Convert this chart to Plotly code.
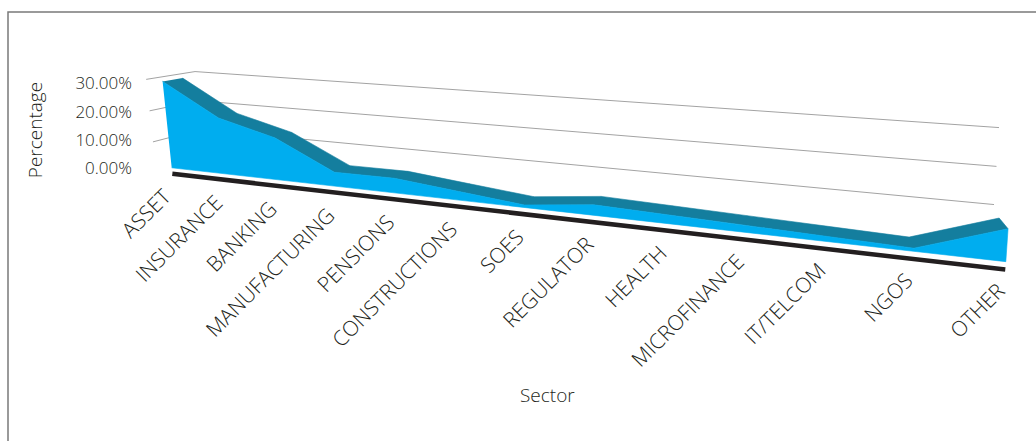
import numpy as np
import plotly.graph_objects as go

# ---------------- data ----------------
CATEGORIES = ["ASSET", "INSURANCE", "BANKING", "MANUFACTURING", "PENSIONS", "CONSTRUCTIONS",
              "SOES", "REGULATOR", "HEALTH", "MICROFINANCE", "IT/TELCOM", "NGOS", "OTHER"]
SHARE_PCT = [28.5, 18.1, 13.4, 4.4, 4.5, 2.6, 0.75, 3.0, 2.45, 1.9, 1.35, 0.8, 8.2]
GRID_PCT = [10, 20, 30]
Y_TICKS = [0, 10, 20, 30]
Y_TICK_TEXT = ["0.00%", "10.00%", "20.00%", "30.00%"]

# ---------------- 3-D view (Excel-like perspective camera) ----------------
CAM_POS = np.array([9.5680, -1.1122, 3.1795])
CAM_YAW, CAM_PITCH, CAM_ROLL = 0.03323, 0.01916, 0.02223
FOCAL, CENTER = 96.61, (793.68, -22.75)
DEPTH_UNIT, PCT_UNIT = 0.04782, 0.047736      # world size of 1 series depth / 1 %
FLOOR_FRONT, BACK_WALL = -0.75, 1.673           # depth of side-wall front edge and back wall
FLOOR_DROP = -2.0                               # floor edge sits just below 0 %

fwd = np.array([-np.sin(CAM_YAW) * np.cos(CAM_PITCH), np.cos(CAM_YAW) * np.cos(CAM_PITCH), -np.sin(CAM_PITCH)])
rgt = np.array([np.cos(CAM_YAW), np.sin(CAM_YAW), 0.0])
upv = np.cross(rgt, fwd)
rgt, upv = np.cos(CAM_ROLL) * rgt + np.sin(CAM_ROLL) * upv, -np.sin(CAM_ROLL) * rgt + np.cos(CAM_ROLL) * upv


def proj(cat, depth, pct):
    w = np.array([cat, DEPTH_UNIT * depth, PCT_UNIT * pct], float) - CAM_POS
    zc = w @ fwd
    return CENTER[0] + FOCAL * (w @ rgt) / zc, CENTER[1] - FOCAL * (w @ upv) / zc


n = len(CATEGORIES)
last = n - 1
LIGHT = "#00adef"
DARK = "#147e9e"
INK = "#231f20"
FONT = "Open Sans"

fig = go.Figure()

# walls: gridlines on left side wall and back wall
gx, gy = [], []
for z in GRID_PCT:
    for a, b in [((0, FLOOR_FRONT, z), (0, BACK_WALL, z)), ((0, BACK_WALL, z), (last, BACK_WALL, z))]:
        x1, y1 = proj(*a)
        x2, y2 = proj(*b)
        gx += [x1, x2, None]
        gy += [y1, y2, None]
fig.add_trace(go.Scatter(x=gx, y=gy, mode="lines", line=dict(color="#a3a3a3", width=1),
                         hoverinfo="skip", showlegend=False))

# floor edge (thick black)
fx, fy = zip(*[proj(i, 0, FLOOR_DROP) for i in (0, last)])
fig.add_trace(go.Scatter(x=fx, y=fy, mode="lines", line=dict(color=INK, width=4.5),
                         hoverinfo="skip", showlegend=False))

# top surface of the 3-D area
tx, ty = [], []
for i in range(last):
    quad = [proj(i, 0, SHARE_PCT[i]), proj(i + 1, 0, SHARE_PCT[i + 1]),
            proj(i + 1, 1, SHARE_PCT[i + 1]), proj(i, 1, SHARE_PCT[i])]
    tx += [q[0] for q in quad] + [None]
    ty += [q[1] for q in quad] + [None]
fig.add_trace(go.Scatter(x=tx, y=ty, mode="lines", fill="toself", fillcolor=DARK,
                         line=dict(color=DARK, width=0.6), hoverinfo="skip", showlegend=False))

# front face of the 3-D area
front = [proj(i, 0, SHARE_PCT[i]) for i in range(n)] + [proj(last, 0, 0), proj(0, 0, 0)]
fig.add_trace(go.Scatter(x=[q[0] for q in front], y=[q[1] for q in front], mode="lines", fill="toself",
                         fillcolor=LIGHT, line=dict(color=LIGHT, width=0.6),
                         hovertemplate="%{text}<extra></extra>",
                         text=[f"{c}: {v:.2f}%" for c, v in zip(CATEGORIES, SHARE_PCT)] + ["", ""],
                         showlegend=False))

# value-axis (labels + title) on its own small subplot
fig.add_trace(go.Scatter(x=[None], y=[None], xaxis="x2", yaxis="y2", showlegend=False, hoverinfo="skip"))

# category labels, rotated, ending under each category
for i, c in enumerate(CATEGORIES):
    x0, y0 = proj(i, 0, 0)
    fig.add_annotation(x=x0 + 7.5, y=y0 + 12.4, xref="x", yref="y", text=c, showarrow=False,
                       textangle=-45, xanchor="right", yanchor="top",
                       font=dict(family=FONT, size=21, color=INK, weight=300))

fig.add_annotation(x=0.528, y=1 - 395 / 441, xref="paper", yref="paper", text="Sector", showarrow=False,
                   xanchor="center", yanchor="middle", font=dict(family=FONT, size=19, color=INK, weight=300))

# outer frame
fig.add_shape(type="rect", xref="paper", yref="paper", x0=8 / 1036, x1=1.02, y0=-0.02, y1=1 - 12 / 441,
              line=dict(color="#7a7a7a", width=1.5), fillcolor="rgba(0,0,0,0)")

fig.update_layout(
    width=1036, height=441, margin=dict(l=0, r=0, t=0, b=0),
    plot_bgcolor="rgba(0,0,0,0)", paper_bgcolor="white", showlegend=False,
    font=dict(family=FONT, color=INK),
    xaxis=dict(range=[0, 1036], visible=False, fixedrange=True),
    yaxis=dict(range=[441, 0], visible=False, fixedrange=True),
    xaxis2=dict(anchor="y2", domain=[0, 1], range=[0, 1], visible=False, fixedrange=True),
    yaxis2=dict(anchor="free", position=132 / 1036, side="left",
                domain=[(441 - 240) / 441, (441 - 20) / 441], range=[-25.24, 52.41],
                tickvals=Y_TICKS, ticktext=Y_TICK_TEXT, ticks="", showgrid=False, zeroline=False,
                showline=False, tickfont=dict(family=FONT, size=17, color=INK, weight=300),
                title=dict(text="Percentage", font=dict(family=FONT, size=19, color=INK, weight=300),
                           standoff=26),
                fixedrange=True),
)
fig.write_html("out.html")
